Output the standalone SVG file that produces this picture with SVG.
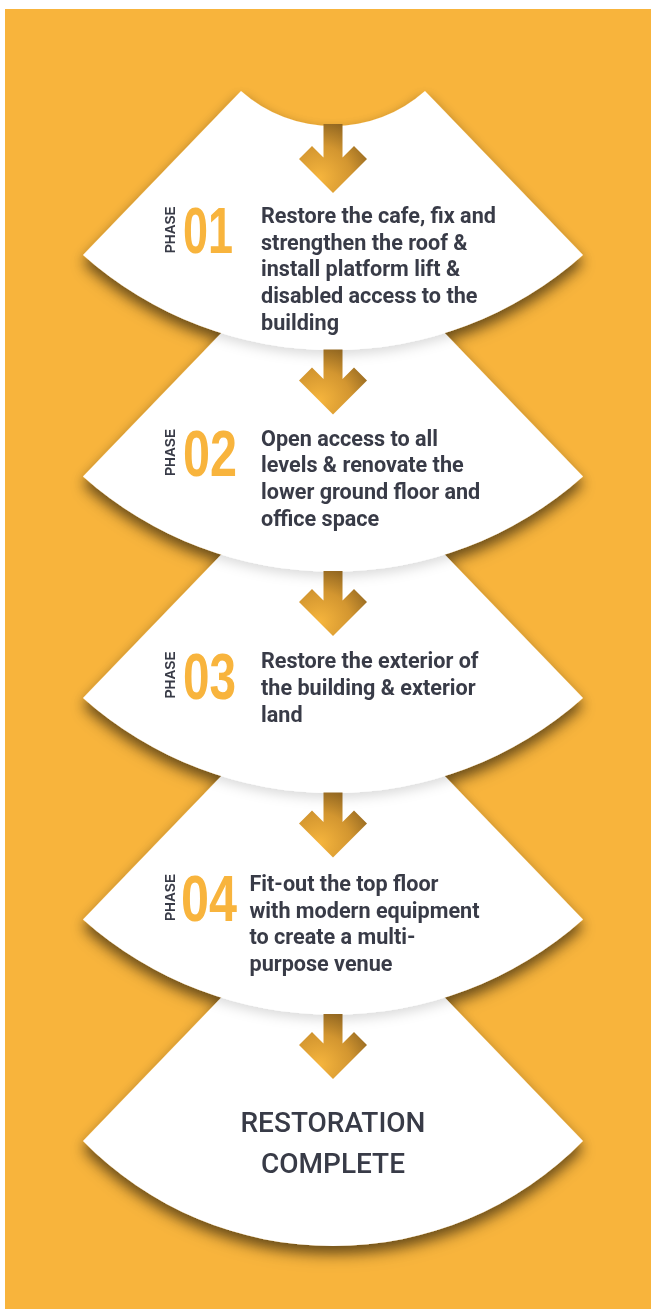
<svg xmlns="http://www.w3.org/2000/svg" width="651" height="1309" viewBox="0 0 651 1309">
<style>
.fan{fill:#ffffff}
.txt{font-family:Roboto,"Liberation Sans",sans-serif;font-weight:700;font-size:21.6px;fill:#393b47}
.ph{font-family:"Liberation Sans",Arial,sans-serif;font-weight:700;font-size:15.5px;fill:#393b47}
.num{font-family:"Liberation Sans",Arial,sans-serif;font-weight:700;font-size:65px;fill:#f8b43c}
.end{font-family:Roboto,"Liberation Sans",sans-serif;font-weight:500;font-size:28px;fill:#393b47;text-anchor:middle}
.arrow{fill:url(#ag)}
</style>
<defs>
<filter id="dark" x="-20%" y="-10%" width="140%" height="125%">
<feGaussianBlur in="SourceAlpha" stdDeviation="7"/>
<feOffset dx="0" dy="8" result="b"/>
<feFlood flood-color="#000" flood-opacity="0.5"/>
<feComposite in2="b" operator="in"/>
<feMerge><feMergeNode/><feMergeNode in="SourceGraphic"/></feMerge>
</filter>
<filter id="light" x="-20%" y="-20%" width="140%" height="150%">
<feGaussianBlur in="SourceAlpha" stdDeviation="6"/>
<feOffset dx="0" dy="5" result="b"/>
<feFlood flood-color="#000" flood-opacity="0.14"/>
<feComposite in2="b" operator="in"/>
<feMerge><feMergeNode/><feMergeNode in="SourceGraphic"/></feMerge>
</filter>
<radialGradient id="ag" cx="0.3" cy="0.78" r="0.85">
<stop offset="0" stop-color="#f6b53d"/>
<stop offset="0.55" stop-color="#d39630"/>
<stop offset="1" stop-color="#8e6420"/>
</radialGradient>
<path id="fan" d="M241 91 A138 138 0 0 0 425 91 L583 255 A376 376 0 0 1 83 255 Z"/>
</defs>
<rect x="0" y="0" width="651" height="1309" fill="#ffffff"/>
<rect x="5" y="9" width="646" height="1300" fill="#f8b43c"/>
<g id="nodes" filter="url(#dark)">
<g id="node-complete">
<path class="fan" filter="url(#light)" d="M241 977 A138 138 0 0 0 425 977 L583 1141 A350 350 0 0 1 83 1141 Z"/>
<text class="end" x="333" y="1132">RESTORATION</text>
<text class="end" x="333" y="1173">COMPLETE</text>
</g>
<g id="node-phase4">
<use href="#fan" class="fan" filter="url(#light)" transform="translate(0 664.5)"/>
<text class="ph" transform="translate(175 921) rotate(-90)" textLength="47" lengthAdjust="spacingAndGlyphs">PHASE</text>
<text class="num" x="181" y="921" textLength="56" lengthAdjust="spacingAndGlyphs">04</text>
<text class="txt" y="890.8"><tspan x="249.5">Fit-out the top floor</tspan><tspan x="249.5" dy="26.7">with modern equipment</tspan><tspan x="249.5" dy="26.7">to create a multi-</tspan><tspan x="249.5" dy="26.7">purpose venue</tspan></text>
</g>
<g id="node-phase3">
<use href="#fan" class="fan" filter="url(#light)" transform="translate(0 443)"/>
<text class="ph" transform="translate(175 698.5) rotate(-90)" textLength="47" lengthAdjust="spacingAndGlyphs">PHASE</text>
<text class="num" x="183" y="698.5" textLength="53" lengthAdjust="spacingAndGlyphs">03</text>
<text class="txt" y="668.2"><tspan x="261">Restore the exterior of</tspan><tspan x="261" dy="26.7">the building &amp; exterior</tspan><tspan x="261" dy="26.7">land</tspan></text>
</g>
<g id="node-phase2">
<use href="#fan" class="fan" filter="url(#light)" transform="translate(0 221.5)"/>
<text class="ph" transform="translate(175 476) rotate(-90)" textLength="47" lengthAdjust="spacingAndGlyphs">PHASE</text>
<text class="num" x="183" y="476" textLength="54" lengthAdjust="spacingAndGlyphs">02</text>
<text class="txt" y="445.6"><tspan x="261">Open access to all</tspan><tspan x="261" dy="26.7">levels &amp; renovate the</tspan><tspan x="261" dy="26.7">lower ground floor and</tspan><tspan x="261" dy="26.7">office space</tspan></text>
</g>
<g id="node-phase1">
<use href="#fan" class="fan" filter="url(#light)"/>
<text class="ph" transform="translate(175 253.3) rotate(-90)" textLength="47" lengthAdjust="spacingAndGlyphs">PHASE</text>
<text class="num" x="183" y="253.3" textLength="50" lengthAdjust="spacingAndGlyphs">01</text>
<text class="txt" y="223"><tspan x="261">Restore the cafe, fix and</tspan><tspan x="261" dy="26.7">strengthen the roof &amp;</tspan><tspan x="261" dy="26.7">install platform lift &amp;</tspan><tspan x="261" dy="26.7">disabled access to the</tspan><tspan x="261" dy="26.7">building</tspan></text>
</g>
</g>
<g id="connectors">
<path class="arrow" d="M323.5 124 L323.5 157.5 L312 146 L299 159 L333 193 L367 159 L354 146 L342.5 157.5 L342.5 124 Z"/>
<path class="arrow" transform="translate(0 221.5)" d="M323.5 128 L323.5 157.5 L312 146 L299 159 L333 193 L367 159 L354 146 L342.5 157.5 L342.5 128 Z"/>
<path class="arrow" transform="translate(0 443)" d="M323.5 128 L323.5 157.5 L312 146 L299 159 L333 193 L367 159 L354 146 L342.5 157.5 L342.5 128 Z"/>
<path class="arrow" transform="translate(0 664.5)" d="M323.5 128 L323.5 157.5 L312 146 L299 159 L333 193 L367 159 L354 146 L342.5 157.5 L342.5 128 Z"/>
<path class="arrow" transform="translate(0 886)" d="M323.5 128 L323.5 157.5 L312 146 L299 159 L333 193 L367 159 L354 146 L342.5 157.5 L342.5 128 Z"/>
</g>
</svg>
